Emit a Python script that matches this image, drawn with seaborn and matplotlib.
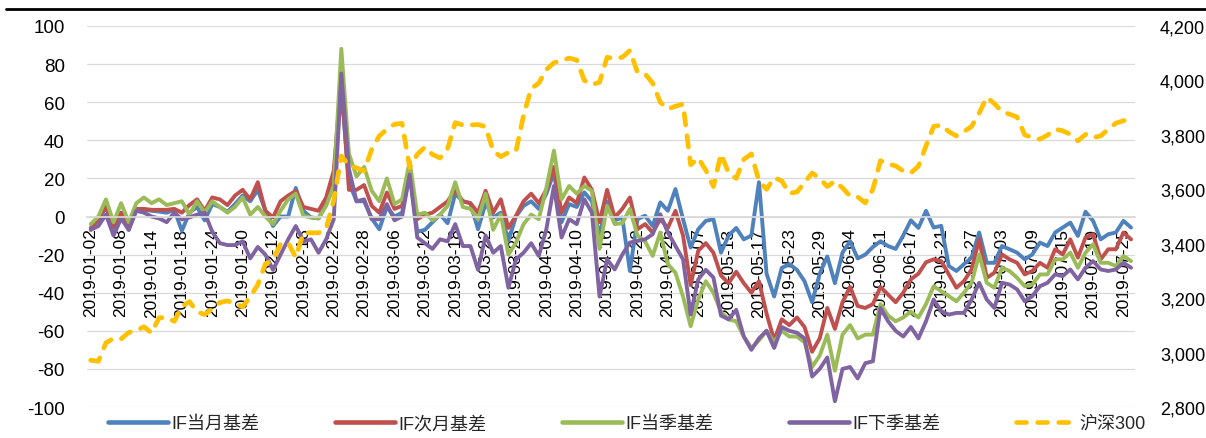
import numpy as np
import matplotlib
matplotlib.use("Agg")
import matplotlib.pyplot as plt
import seaborn as sns
from matplotlib.lines import Line2D
from matplotlib.ticker import FuncFormatter


# 刻度日期（每4个交易日一个）
tick_dates = [
    "2019-01-02", "2019-01-08", "2019-01-14", "2019-01-18", "2019-01-24",
    "2019-01-30", "2019-02-12", "2019-02-18", "2019-02-22", "2019-02-28",
    "2019-03-06", "2019-03-12", "2019-03-18", "2019-03-22", "2019-03-28",
    "2019-04-03", "2019-04-10", "2019-04-16", "2019-04-22", "2019-04-26",
    "2019-05-07", "2019-05-13", "2019-05-17", "2019-05-23", "2019-05-29",
    "2019-06-04", "2019-06-11", "2019-06-17", "2019-06-21", "2019-06-27",
    "2019-07-03", "2019-07-09", "2019-07-15", "2019-07-19", "2019-07-25",
]

if_cur = [
    -6, -2, 5, -6, 2, -7, 4, 3.5, 3, 2.6, 2, 3.5, -7.5, 2, 5, -2, 6.5, 5, 2.5, 6.5,
    11, 8, 14, 3, -5, 0, 0, 15, 3, -0.5, -1, 6.5, 18, 67, 18, 8, 8, -1, -6.7, 5,
    0, 2, 23, -8, -7, -3, 1, -3.5, 12, 8, 7, -6.7, 7, -0.5, 2, -12.8, 0, 5.6, 8, 4,
    12, 23, -3, 6.5, 5, 12.7, 8, -10, 8, -2, -0.5, -28.6, -1.4, 0.4, -5, 7.4, 3, 14.4, -1.4, -16.3,
    -6.7, -2.3, -1.4, -19, -10, -6, -12, -10, 18, -30, -42, -27, -25, -28, -34, -45, -30, -21, -35, -19,
    -13, -22, -20, -16, -13, -15.5, -17, -10, -2, -6, 3, -5.8, -4.9, -26, -28.6, -25, -21.6, -8.4, -24.3, -24.3,
    -15.5, -17.2, -19, -22.5, -19.9, -13.7, -15.5, -8.4, -5.8, -3.2, -10.2, 2.5, -2.3, -12, -9.3, -8.4, -2.3, -5.8,
]

if_next = [
    -7, -1, 5, -5, 2, -6, 4, 4, 3.5, 3.5, 3.5, 4, 2, 6, 9, 3, 10, 9, 6, 11,
    14, 9, 18, 3, -0.5, 8, 11, 13.5, 5, 4, 3, 10, 24, 72, 14, 14, 16.5, 5.6, 2, 12.6,
    4, 5.6, 24, -1.4, 1, 2, 5, 8, 14, 8, 7, 2, 13.5, 2, 9, -6, 0.4, 8, 12, 7,
    14, 26, 2, 10, 7, 20.5, 14, -3, 14, -0.5, 4, 10, -6.7, -4, -8.4, -1.4, -6, 3, -10, -36,
    -18, -14, -19, -31, -35, -29, -35, -40, -34, -51, -65, -54, -57, -53, -58, -71, -64, -48, -59, -45,
    -37, -47, -48, -46, -37, -41, -45, -40, -33, -30, -24, -22.5, -23.4, -30.4, -37.4, -33.9, -27.8, -12, -32.2, -29.5,
    -19.9, -22.5, -24.3, -30.4, -28.6, -24.3, -26.9, -17.2, -19.9, -12, -21.6, -11, -9.3, -22.5, -17.2, -17.2, -8.4, -12,
]

if_season = [
    -4, 0, 9, -3, 7, -3, 7, 10, 7, 9, 6, 7, 8, 1, 8, 2, 8, 5, 2, 5,
    10, 1, 5, 0, -4, 3, 9, 12, 0.4, -0.5, -1, 5.6, 16, 88, 33, 21, 26, 13.5, 8, 20,
    6.5, 9, 29, 1, 2, -2, 1, 5.6, 18, 5, 4, -1.4, 12, -7, 1, -20, -13.7, -4, 1, -1.4,
    15, 34.6, 9, 16, 12, 16, 13.5, -17, 5.6, -4, -3.5, 4, -10, -13, -20.7, -8.4, -25, -29.5, -42, -57.6,
    -43.6, -34, -40, -50, -54, -55, -63, -69, -65, -60, -66, -60, -63, -63, -66, -79, -73, -62, -81, -62,
    -57, -64, -62, -62, -46, -52, -55, -53, -50, -53, -46, -36.6, -39.2, -41.8, -44.5, -40, -34.8, -19.9, -34.8, -37.4,
    -26.9, -28.6, -32.2, -36.6, -35.7, -30.4, -30.4, -22.5, -22.5, -19, -26.9, -19, -14.6, -24.3, -24.3, -26, -20.7, -23.4,
]

if_next_season = [
    -7, -5, 1, -10, -1, -7, 3, 2, 0, -1, -3, 2, -1.5, -0.5, 1, 2, -8, -14, -15, -15,
    -13, -22, -16, -20, -28, -20, -12, -5, -13, -12, -19, -12, -1.4, 75, 25, 8, 9, -1.4, -1.4, 6.5,
    -2, 0, 22, -11, -14, -17, -12, -13, -4, -15.5, -15.5, -28, -10, -19, -15.5, -37.4, -22.5, -19, -14, -20.7,
    -6.7, 16, -11, -1.4, -4, 9, 2, -42, -22.5, -27.8, -20, -13.7, -12.8, -12, -9.3, 1.2, -8.4, -15.5, -22.5, -51.5,
    -33, -28, -32, -52, -54, -49, -63, -70, -64, -60, -69, -58, -60, -61, -64, -84, -80, -74, -97, -80,
    -79, -85, -77, -76, -48, -55, -60, -63, -58, -64, -55, -43.6, -49.7, -51.5, -50.6, -50.6, -43.6, -34.8, -43.6, -48,
    -34.8, -35.7, -38.3, -44.5, -41.8, -36.6, -34.8, -30.4, -31.3, -27.8, -33, -26.9, -23.4, -27.8, -28.6, -27.8, -24.3, -26.9,
]

hs300 = [
    2972, 2968, 3036, 3052, 3050, 3074, 3080, 3095, 3072, 3128, 3128, 3115, 3170, 3187, 3150, 3140, 3160, 3184, 3190, 3180,
    3168, 3205, 3250, 3326, 3340, 3400, 3403, 3350, 3440, 3440, 3440, 3455, 3560, 3722, 3688, 3679, 3667, 3747, 3796, 3821,
    3839, 3842, 3680, 3728, 3755, 3728, 3715, 3750, 3845, 3836, 3836, 3838, 3830, 3741, 3720, 3735, 3740, 3872, 3970, 3990,
    4040, 4065, 4073, 4082, 4075, 4000, 3985, 3993, 4085, 4080, 4085, 4110, 4030, 4024, 3990, 3920, 3895, 3905, 3913, 3690,
    3715, 3670, 3610, 3730, 3660, 3640, 3710, 3730, 3630, 3600, 3643, 3631, 3585, 3590, 3625, 3660, 3640, 3610, 3630, 3605,
    3575, 3572, 3550, 3600, 3705, 3693, 3686, 3667, 3660, 3685, 3760, 3831, 3836, 3812, 3796, 3812, 3831, 3880, 3938, 3915,
    3885, 3876, 3865, 3800, 3790, 3784, 3799, 3821, 3815, 3802, 3778, 3802, 3790, 3796, 3821, 3843, 3852, 3858,
]

names = ["IF当月基差", "IF次月基差", "IF当季基差", "IF下季基差", "沪深300"]
colors = ["#4F81BD", "#C0504D", "#9BBB59", "#8064A2", "#FFC000"]

sns.set_theme(style="white")
plt.rcParams["font.family"] = ["Liberation Sans", "Noto Sans CJK SC"]
plt.rcParams["axes.unicode_minus"] = False

fig, ax = plt.subplots(figsize=(12.06, 4.39), dpi=100)
fig.subplots_adjust(left=0.0721, right=0.941, bottom=0.0706, top=0.9385)

x = np.arange(len(if_cur))
basis = [if_cur, if_next, if_season, if_next_season]
for vals, color in zip(basis, colors[:4]):
    sns.lineplot(x=x, y=vals, ax=ax, color=color, linewidth=2.8, legend=False)

ax.set_ylim(-100, 100)
ax.set_xlim(-0.5, len(x) - 0.5)
ax.set_yticks(range(-100, 101, 20))
ax.yaxis.grid(True, color="#d9d9d9", linewidth=0.9)
ax.xaxis.grid(False)
ax.set_axisbelow(True)

ax.set_xticks(range(0, len(x), 4))
ax.set_xticklabels(tick_dates)
ax.spines["bottom"].set_position(("data", 0))
ax.spines["bottom"].set_color("#d9d9d9")
for s in ["top", "left", "right"]:
    ax.spines[s].set_visible(False)
ax.tick_params(axis="x", length=0, pad=8, labelsize=12.5, labelrotation=90, colors="black")
ax.tick_params(axis="y", length=0, pad=16, labelsize=13.5, colors="black")
ax.set_xlabel("")
ax.set_ylabel("")

# 沪深300 次坐标轴
ax2 = ax.twinx()
sns.lineplot(x=x, y=hs300, ax=ax2, color=colors[4], linewidth=3.4,
             linestyle=(0, (2.4, 2.3)), dash_capstyle="round", legend=False)
ax2.set_ylim(2800, 4200)
ax2.set_yticks(range(2800, 4201, 200))
ax2.yaxis.set_major_formatter(FuncFormatter(lambda v, p: f"{int(v):,}"))
ax2.tick_params(axis="y", length=0, pad=18, labelsize=13, colors="black")
ax2.grid(False)
for s in ax2.spines.values():
    s.set_visible(False)
ax2.set_ylabel("")

handles = [Line2D([], [], color=c, linewidth=3.3) for c in colors[:4]]
handles.append(Line2D([], [], color=colors[4], linewidth=3.3,
                      linestyle=(0, (2.2, 2.4)), dash_capstyle="round"))
fig.legend(handles, names, loc="center", bbox_to_anchor=(0.52, 0.033), ncol=5,
           frameon=False, fontsize=13, handlelength=3.3, handletextpad=0.2,
           columnspacing=4.2)

# 顶部标题分隔线
fig.add_artist(Line2D([0.005, 1.0], [1 - 10 / 439] * 2, transform=fig.transFigure,
                      color="black", linewidth=2))

fig.savefig("out.png", dpi=100)
